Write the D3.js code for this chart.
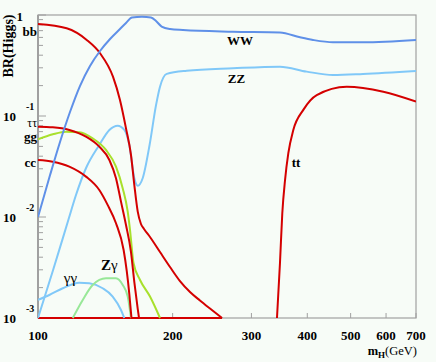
<!DOCTYPE html>
<html><head><meta charset="utf-8">
<script src="https://cdn.jsdelivr.net/npm/d3@7"></script>
<style>body{margin:0;background:#f7fcf7;} svg{display:block;background:#f7fcf7;}</style>
</head><body><svg id="c" width="436" height="362"></svg>
<script>
// ---- data (mass in GeV, branching ratio) ----
const mBB  = [100,115.9,128.5,137.6,147.1,152.5,157.3,161.4,164.2,167.1,169.9,172.6,178.0,187.4,197.3,207.7,218.7,230.2,242.4,257.9];
const brBB = [0.815,0.738,0.566,0.418,0.245,0.144,0.0755,0.0411,0.0207,0.0113,0.00852,0.00761,0.00634,0.00450,0.00320,0.00232,0.00181,0.00149,0.00124,0.001];
const mTauTau  = [100,107.9,117.5,128.0,137.1,144.4,149.4,153.3,157.3,161.4,164.2,167.1,168.2];
const brTauTau = [0.0784,0.0773,0.0727,0.0624,0.0497,0.0367,0.0242,0.0142,0.00833,0.00450,0.00227,0.00123,0.001];
const mCC  = [100,107.9,117.5,128.0,137.1,143.2,149.4,155.4,157.9,160.0,161.8];
const brCC = [0.0367,0.0353,0.0315,0.0251,0.0185,0.0131,0.00867,0.00471,0.00292,0.00173,0.001];
const mGG  = [100,107.9,115.5,123.7,132.5,141.9,149.4,154.7,158.7,160.6,163.5,169.1,178.0,187.4];
const brGG = [0.0588,0.0659,0.0700,0.0690,0.0601,0.0461,0.0315,0.0192,0.0113,0.00743,0.00350,0.00238,0.00163,0.001];
const mWW  = [100,106.4,112.0,117.9,124.1,130.7,137.6,144.9,152.5,157.3,162.2,170.8,178.9,183.6,189.0,197.3,210.9,272.9,347.5,385.3,411.9,456.6,532.8,700];
const brWW = [0.0100,0.0260,0.0553,0.1095,0.198,0.313,0.440,0.579,0.727,0.833,0.944,0.960,0.944,0.872,0.769,0.727,0.710,0.684,0.671,0.601,0.566,0.537,0.537,0.566];
const mZZ  = [100,108.0,116.9,121.6,128.0,137.1,144.4,150.7,156.0,160.0,164.2,167.1,171.4,177.6,183.6,187.4,194.0,215.0,272.9,347.5,398.8,456.6,532.8,700];
const brZZ = [0.001,0.00295,0.00933,0.0165,0.0304,0.0516,0.0727,0.0801,0.0727,0.0516,0.0242,0.0204,0.0242,0.0516,0.128,0.195,0.261,0.281,0.297,0.308,0.275,0.255,0.261,0.279];
const mTT  = [342.2,347.5,351.7,356.7,362.8,372.2,391.9,419.9,490.0,591.6,700];
const brTT = [0.001,0.00348,0.0109,0.0232,0.0428,0.0727,0.115,0.161,0.195,0.174,0.139];
const mGamGam  = [100,106.0,113.6,123.7,130.2,139.5,146.9,153.3,155.9];
const brGamGam = [0.00151,0.00169,0.00197,0.00224,0.00221,0.00197,0.00163,0.0012,0.001];
const mZGam  = [119.6,125.9,132.5,141.9,149.4,154.7,158.7,161.4];
const brZGam = [0.001,0.00151,0.00212,0.00247,0.00247,0.00212,0.00163,0.001];
const mFloor  = [100,257.9];
const brFloor = [0.001,0.001];

const xTicks = [200,300,400,500,600,700];
const xTickLabels = ["200","300","400","500","600","700"];
const yDecades = [1,0.1,0.01,0.001];
const yExpLabels = ["","-1","-2","-3"];

// ---- scales ----
const W=436,H=362, L=38, R=416, T=15, B=318;
const x = d3.scaleLog().domain([100,700]).range([L,R]);
const y = d3.scaleLog().domain([0.001,1]).range([B,T]);
const svg = d3.select("#c");
const serif = "'Liberation Serif','Times New Roman',serif";

svg.append("clipPath").attr("id","clip").append("rect")
  .attr("x",L).attr("y",T-1).attr("width",R-L).attr("height",B-T+2);

// frame
svg.append("rect").attr("x",L).attr("y",T).attr("width",R-L).attr("height",B-T)
  .attr("fill","none").attr("stroke","#a0a0a0").attr("stroke-width",1.2);
svg.append("line").attr("x1",L).attr("x2",L).attr("y1",T).attr("y2",B)
  .attr("stroke","#a0a0a0").attr("stroke-width",2);

// y ticks (inside)
const yt = svg.append("g");
[0.001,0.01,0.1].forEach(d=>{
  for(let k=1;k<=9;k++){
    const v=d*k; if(v>1) continue;
    yt.append("line").attr("x1",L).attr("x2",L+(k===1?8:5))
      .attr("y1",y(v)).attr("y2",y(v)).attr("stroke","#a0a0a0").attr("stroke-width",1);
  }
});
yt.append("line").attr("x1",L).attr("x2",L+8).attr("y1",y(1)).attr("y2",y(1)).attr("stroke","#a0a0a0");

// x ticks (inside)
const xt = svg.append("g");
xTicks.forEach(t=>{
  xt.append("line").attr("x1",x(t)).attr("x2",x(t)).attr("y1",B).attr("y2",B-5)
    .attr("stroke","#a0a0a0").attr("stroke-width",1);
});

// x tick labels
const tl = svg.append("g").attr("font-family",serif).attr("font-weight","bold").attr("font-size",13).attr("fill","#000");
tl.append("text").attr("x",x(100)).attr("y",340).attr("text-anchor","middle").text("100");
xTicks.forEach((t,i)=>{
  tl.append("text").attr("x",x(t)).attr("y",340).attr("text-anchor","middle").text(xTickLabels[i]);
});
// y tick labels
yDecades.forEach((d,i)=>{
  if(d===1){
    tl.append("text").attr("x",23).attr("y",y(d)+5.5).attr("text-anchor","end").text("1");
  } else {
    tl.append("text").attr("x",16).attr("y",y(d)+5).attr("text-anchor","end").text("10");
    tl.append("text").attr("x",26).attr("y",y(d)-6.5).attr("font-size",10).text(yExpLabels[i]);
  }
});

// axis titles
const xt2 = svg.append("text").attr("x",417).attr("y",355).attr("text-anchor","end")
  .attr("font-family",serif).attr("font-size",12.5).attr("fill","#000");
xt2.append("tspan").attr("font-weight","bold").text("m");
xt2.append("tspan").attr("font-weight","bold").attr("font-size",9).attr("dy",3).text("H");
xt2.append("tspan").attr("dy",-3).text("(GeV)");
svg.append("text").attr("transform","translate(13,46) rotate(-90)").attr("text-anchor","middle")
  .attr("font-family",serif).attr("font-weight","bold").attr("font-size",14).text("BR(Higgs)");

// curves
const line = d3.line().x(d=>x(d[0])).y(d=>y(Math.max(d[1],0.001))).curve(d3.curveMonotoneX);
const series = [
  {m:mFloor,v:brFloor,c:"#d40000"},
  {m:mGamGam,v:brGamGam,c:"#80c8f8"},
  {m:mZGam,v:brZGam,c:"#98e898"},
  {m:mZZ,v:brZZ,c:"#80c8f8"},
  {m:mGG,v:brGG,c:"#a8e02c"},
  {m:mCC,v:brCC,c:"#d40000"},
  {m:mTauTau,v:brTauTau,c:"#d40000"},
  {m:mBB,v:brBB,c:"#d40000"},
  {m:mTT,v:brTT,c:"#d40000"},
  {m:mWW,v:brWW,c:"#5f90e8"}
];
const g = svg.append("g").attr("clip-path","url(#clip)");
series.forEach(s=>{
  g.append("path").datum(s.m.map((m,i)=>[m,s.v[i]]))
    .attr("d",line).attr("fill","none").attr("stroke",s.c).attr("stroke-width",2);
});

// curve labels
const lab = svg.append("g").attr("font-family",serif).attr("font-size",13).attr("fill","#000");
lab.append("text").attr("x",x(283)).attr("y",y(0.505)).attr("text-anchor","middle").attr("font-weight","bold").text("WW");
lab.append("text").attr("x",x(277.8)).attr("y",y(0.212)).attr("text-anchor","middle").attr("font-weight","bold").text("ZZ");
lab.append("text").attr("x",x(377.4)).attr("y",y(0.0313)).attr("text-anchor","middle").attr("font-weight","bold").text("tt");
lab.append("text").attr("x",x(118.2)).attr("y",y(0.00222)).attr("text-anchor","middle").attr("font-size",15).text("γγ");
const zg = lab.append("text").attr("x",x(144.3)).attr("y",y(0.00299)).attr("text-anchor","middle").attr("font-size",15);
zg.append("tspan").attr("font-weight","bold").text("Z"); zg.append("tspan").text("γ");
lab.append("text").attr("x",37).attr("y",36).attr("text-anchor","end").attr("font-weight","bold").text("bb");
lab.append("text").attr("x",37).attr("y",127).attr("text-anchor","end").attr("font-size",12).text("ττ");
lab.append("text").attr("x",37).attr("y",141).attr("text-anchor","end").attr("font-weight","bold").text("gg");
lab.append("text").attr("x",36).attr("y",166.5).attr("text-anchor","end").attr("font-weight","bold").text("cc");
</script></body></html>
